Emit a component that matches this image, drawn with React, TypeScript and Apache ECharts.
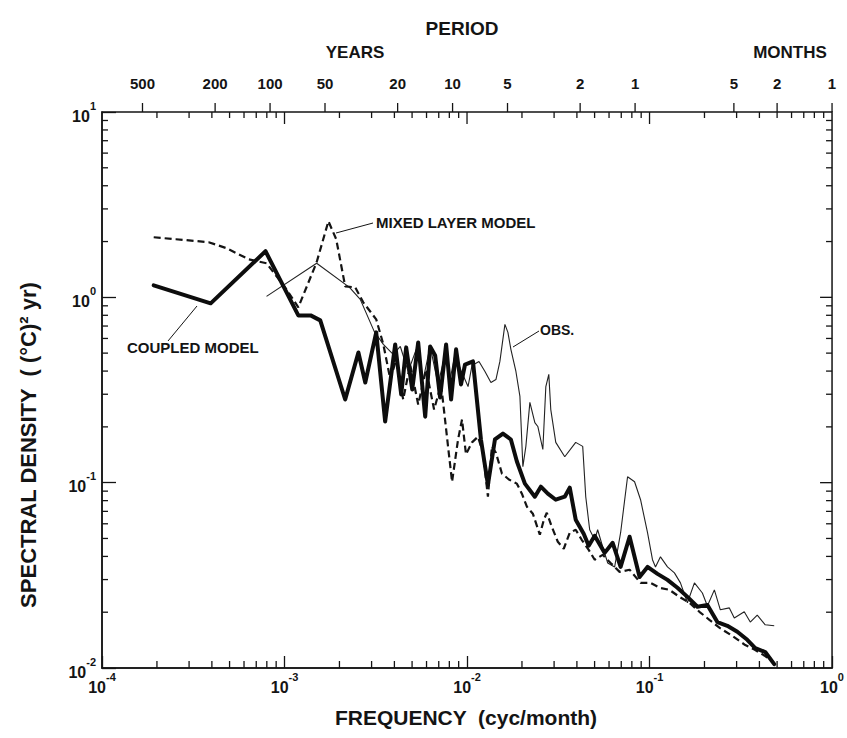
import React, { useEffect, useRef } from "react";
import * as echarts from "echarts";

// ---- data (frequency in cyc/month, spectral density in (°C)^2 yr) ----
const coupledFreq = [1.92e-4, 3.94e-4, 7.87e-4, 1.19e-3, 1.39e-3, 1.57e-3, 2.15e-3, 2.54e-3, 2.77e-3, 3.18e-3, 3.56e-3, 4.04e-3, 4.36e-3, 4.64e-3, 5.01e-3, 5.40e-3, 5.90e-3, 6.28e-3, 6.69e-3, 7.12e-3, 7.68e-3, 8.18e-3, 8.71e-3, 9.27e-3, 9.75e-3, 1.078e-2, 1.192e-2, 1.302e-2, 1.422e-2, 1.573e-2, 1.739e-2, 1.876e-2, 2.075e-2, 2.353e-2, 2.538e-2, 2.771e-2, 3.064e-2, 3.432e-2, 3.655e-2, 3.94e-2, 4.358e-2, 4.642e-2, 5.007e-2, 5.676e-2, 6.28e-2, 6.943e-2, 7.777e-2, 8.819e-2, 9.75e-2, 0.1106, 0.1254, 0.1422, 0.1613, 0.1829, 0.2075, 0.2353, 0.2668, 0.3027, 0.3432, 0.3795, 0.4304, 0.4821];
const coupledDensity = [1.161, 0.928, 1.773, 0.799, 0.799, 0.751, 0.281, 0.504, 0.347, 0.647, 0.214, 0.557, 0.299, 0.537, 0.318, 0.571, 0.227, 0.543, 0.486, 0.288, 0.557, 0.281, 0.524, 0.339, 0.434, 0.451, 0.171, 0.0975, 0.171, 0.184, 0.171, 0.130, 0.0988, 0.0840, 0.0951, 0.0872, 0.0809, 0.0840, 0.0940, 0.0631, 0.0530, 0.0457, 0.0517, 0.0418, 0.0474, 0.0351, 0.0511, 0.0310, 0.0351, 0.0322, 0.0299, 0.0271, 0.0242, 0.0214, 0.0219, 0.0177, 0.0169, 0.0157, 0.0142, 0.0128, 0.0122, 0.0105];

const mixedFreq = [1.92e-4, 2.54e-4, 3.84e-4, 4.82e-4, 6.36e-4, 7.97e-4, 1.025e-3, 1.19e-3, 1.50e-3, 1.74e-3, 1.92e-3, 2.15e-3, 2.44e-3, 2.70e-3, 3.18e-3, 3.48e-3, 3.80e-3, 4.09e-3, 4.47e-3, 4.88e-3, 5.40e-3, 5.97e-3, 6.60e-3, 7.21e-3, 7.87e-3, 8.28e-3, 8.93e-3, 9.39e-3, 9.87e-3, 1.065e-2, 1.148e-2, 1.223e-2, 1.302e-2, 1.369e-2, 1.44e-2, 1.553e-2, 1.696e-2, 1.876e-2, 1.998e-2, 2.128e-2, 2.295e-2, 2.506e-2, 2.636e-2, 2.737e-2, 2.914e-2, 3.144e-2, 3.389e-2, 3.655e-2, 3.94e-2, 4.25e-2, 4.642e-2, 5.007e-2, 5.535e-2, 6.12e-2, 6.856e-2, 7.777e-2, 8.93e-2, 0.1013, 0.1134, 0.1286, 0.1458, 0.1654, 0.1876, 0.2128, 0.2413, 0.2842, 0.3346, 0.3795, 0.4304, 0.4699];
const mixedDensity = [2.11, 2.058, 1.983, 1.84, 1.605, 1.527, 1.105, 0.883, 1.546, 2.575, 2.058, 1.147, 1.132, 0.94, 0.761, 0.557, 0.360, 0.462, 0.281, 0.434, 0.264, 0.408, 0.248, 0.339, 0.157, 0.101, 0.171, 0.219, 0.142, 0.165, 0.177, 0.145, 0.084, 0.157, 0.145, 0.112, 0.104, 0.0988, 0.0872, 0.0742, 0.068, 0.0524, 0.0631, 0.0688, 0.0578, 0.048, 0.044, 0.0537, 0.0557, 0.0492, 0.0434, 0.0384, 0.0408, 0.0369, 0.033, 0.0339, 0.0288, 0.0288, 0.0271, 0.0264, 0.0242, 0.0225, 0.0201, 0.0182, 0.0165, 0.0149, 0.0133, 0.0125, 0.0116, 0.0109];

const obsFreq = [7.97e-4, 1.50e-3, 2.27e-3, 2.60e-3, 3.10e-3, 3.48e-3, 3.94e-3, 4.31e-3, 4.76e-3, 5.27e-3, 5.75e-3, 6.28e-3, 6.94e-3, 7.58e-3, 8.07e-3, 8.60e-3, 9.27e-3, 1.013e-2, 1.065e-2, 1.163e-2, 1.254e-2, 1.352e-2, 1.44e-2, 1.514e-2, 1.613e-2, 1.675e-2, 1.739e-2, 1.853e-2, 1.949e-2, 2.023e-2, 2.101e-2, 2.21e-2, 2.353e-2, 2.443e-2, 2.603e-2, 2.703e-2, 2.806e-2, 2.877e-2, 3.064e-2, 3.432e-2, 3.94e-2, 4.304e-2, 4.472e-2, 4.70e-2, 5.007e-2, 5.197e-2, 5.535e-2, 5.897e-2, 6.44e-2, 6.943e-2, 7.58e-2, 8.28e-2, 8.93e-2, 9.75e-2, 0.1038, 0.1078, 0.1148, 0.1254, 0.1369, 0.1477, 0.1613, 0.1762, 0.1948, 0.2075, 0.2266, 0.2443, 0.2737, 0.2914, 0.3304, 0.3564, 0.3892, 0.4304, 0.4821];
const obsDensity = [1.012, 1.527, 1.132, 0.975, 0.655, 0.557, 0.492, 0.543, 0.398, 0.524, 0.360, 0.543, 0.339, 0.492, 0.360, 0.492, 0.403, 0.330, 0.429, 0.451, 0.398, 0.347, 0.360, 0.451, 0.715, 0.647, 0.524, 0.398, 0.292, 0.122, 0.157, 0.271, 0.211, 0.201, 0.151, 0.330, 0.384, 0.248, 0.165, 0.138, 0.165, 0.157, 0.084, 0.0557, 0.0492, 0.0557, 0.0451, 0.0369, 0.0351, 0.0537, 0.1077, 0.1012, 0.0809, 0.0537, 0.0384, 0.0351, 0.0398, 0.0351, 0.0326, 0.0288, 0.0225, 0.0288, 0.0254, 0.0216, 0.0264, 0.0206, 0.0211, 0.0186, 0.0201, 0.0177, 0.0193, 0.0171, 0.0169];

// top axis: period ticks (in months) and their labels
const periodMonths = [6000, 2400, 1200, 600, 240, 120, 60, 24, 12, 3.45, 2, 1];
const periodLabels = ["500", "200", "100", "50", "20", "10", "5", "2", "1", "5", "2", "1"];

const X_MIN = 1e-4, X_MAX = 1, Y_MIN = 0.01, Y_MAX = 10;

const FONT = '"Liberation Sans", Arial, Helvetica, sans-serif';
const INK = "#141414";

const minorValues = (lo: number, hi: number) => {
  const out: number[] = [];
  for (let d = lo; d < hi; d++) for (let k = 2; k <= 9; k++) out.push(k * Math.pow(10, d));
  return out;
};

const pow10Label = (v: number) => {
  const e = Math.round(Math.log10(v));
  return `{b|10}{s|${e}}`;
};

const richSup = {
  b: { fontSize: 16, fontFamily: FONT, fontWeight: "bold", color: INK, lineHeight: 24, verticalAlign: "bottom" },
  s: { fontSize: 11, fontFamily: FONT, fontWeight: "bold", color: INK, lineHeight: 12, verticalAlign: "top" },
};

const txt = (x: number, y: number, text: string, fontSize: number, align = "center", rotation = 0) => ({
  type: "text", x, y, rotation, silent: true,
  style: { text, fontSize, fontWeight: "bold", fontFamily: FONT, fill: INK, align, verticalAlign: "middle" },
});

const seg = (x1: number, y1: number, x2: number, y2: number, w = 1.3) => ({
  type: "line", silent: true,
  shape: { x1, y1, x2, y2 },
  style: { stroke: INK, lineWidth: w },
});

export default function App() {
  const ref = useRef<HTMLDivElement>(null);
  useEffect(() => {
    if (!ref.current) return;
    const chart = echarts.init(ref.current, null, { renderer: "svg" });
    const periodLog = periodMonths.map((p) => Math.log10(1 / p));
    const hidden = { show: false };

    chart.setOption({
      animation: false,
      backgroundColor: "#fff",
      grid: { left: 102, right: 12, top: 112, bottom: 70, show: true, borderColor: INK, borderWidth: 1.5, backgroundColor: "transparent" },
      xAxis: [
        {
          type: "log", min: X_MIN, max: X_MAX, position: "bottom",
          axisLine: { show: true, onZero: false, lineStyle: { color: INK, width: 1.5 } },
          axisTick: { show: true, inside: true, length: 12, lineStyle: { color: INK, width: 1.3 } },
          axisLabel: { show: true, formatter: pow10Label, rich: richSup, margin: 3 },
          splitLine: hidden, minorTick: hidden, minorSplitLine: hidden,
        },
        {
          type: "value", min: -4, max: 0, position: "top",
          axisLine: { show: false, onZero: false },
          axisTick: hidden,
          axisLabel: {
            show: true, customValues: periodLog, margin: 21,
            fontSize: 15, fontWeight: "bold", fontFamily: FONT, color: INK,
            formatter: (v: number) => {
              let best = 0;
              periodLog.forEach((p, i) => { if (Math.abs(p - v) < Math.abs(periodLog[best] - v)) best = i; });
              return periodLabels[best];
            },
          },
          splitLine: hidden,
        },
      ],
      yAxis: [
        {
          type: "log", min: Y_MIN, max: Y_MAX, position: "left",
          axisLine: { show: true, onZero: false, lineStyle: { color: INK, width: 1.5 } },
          axisTick: { show: true, inside: true, length: 14, lineStyle: { color: INK, width: 1.3 } },
          axisLabel: { show: true, formatter: pow10Label, rich: richSup, margin: 6 },
          splitLine: hidden, minorTick: hidden, minorSplitLine: hidden,
        },
      ],
      series: [
        {
          name: "OBS.", type: "line", xAxisIndex: 0, yAxisIndex: 0,
          data: obsFreq.map((f, i) => [f, obsDensity[i]]),
          showSymbol: false, symbol: "none",
          lineStyle: { color: "#222", width: 1.1 },
          z: 2,
        },
        {
          name: "MIXED LAYER MODEL", type: "line", xAxisIndex: 0, yAxisIndex: 0,
          data: mixedFreq.map((f, i) => [f, mixedDensity[i]]),
          showSymbol: false, symbol: "none",
          lineStyle: { color: INK, width: 2.2, type: [7, 4] },
          z: 3,
        },
        {
          name: "COUPLED MODEL", type: "line", xAxisIndex: 0, yAxisIndex: 0,
          data: coupledFreq.map((f, i) => [f, coupledDensity[i]]),
          showSymbol: false, symbol: "none",
          lineStyle: { color: "#0d0d0d", width: 4, join: "round", cap: "round" },
          z: 4,
        },
      ],
    });

    // ticks drawn through the chart's own scales
    const toPx = (x: number, y: number) =>
      chart.convertToPixel({ xAxisIndex: 0, yAxisIndex: 0 }, [x, y]) as number[];
    const ticks: any[] = [];
    const xMinor = minorValues(-4, 0);
    const yMinor = minorValues(-2, 1);
    xMinor.forEach((v) => {
      const b = toPx(v, Y_MIN), t = toPx(v, Y_MAX);
      ticks.push(seg(b[0], b[1], b[0], b[1] - 7));
      ticks.push(seg(t[0], t[1], t[0], t[1] + 6));
    });
    [1e-3, 1e-2, 1e-1].forEach((v) => {
      const t = toPx(v, Y_MAX);
      ticks.push(seg(t[0], t[1], t[0], t[1] + 12));
    });
    periodMonths.forEach((p) => {
      const t = toPx(1 / p, Y_MAX);
      ticks.push(seg(t[0], t[1], t[0], t[1] - 9));
    });
    yMinor.forEach((v) => {
      const l = toPx(X_MIN, v), r = toPx(X_MAX, v);
      ticks.push(seg(l[0], l[1], l[0] + 6, l[1]));
      ticks.push(seg(r[0], r[1], r[0] - 6, r[1]));
    });
    [0.1, 1].forEach((v) => {
      const r = toPx(X_MAX, v);
      ticks.push(seg(r[0], r[1], r[0] - 12, r[1]));
    });

    chart.setOption({
      graphic: [
        txt(462, 28, "PERIOD", 19),
        txt(355, 52, "YEARS", 17),
        txt(790, 52, "MONTHS", 17),
        txt(466, 717, "FREQUENCY  (cyc/month)", 21),
        txt(28, 445, "SPECTRAL DENSITY  ( (°C)² yr)", 22, "center", Math.PI / 2),
        txt(376, 222, "MIXED LAYER MODEL", 15, "left"),
        txt(127, 347, "COUPLED MODEL", 15, "left"),
        txt(540, 330, "OBS.", 14, "left"),
        seg(336, 233, 373, 223, 1),
        seg(168, 341, 197, 306, 1),
        seg(513, 347, 539, 331, 1),
        ...ticks,
      ],
    });
    return () => chart.dispose();
  }, []);
  return <div ref={ref} style={{ position: "fixed", left: 0, top: 0, width: 847, height: 738, background: "#fff" }} />;
}
